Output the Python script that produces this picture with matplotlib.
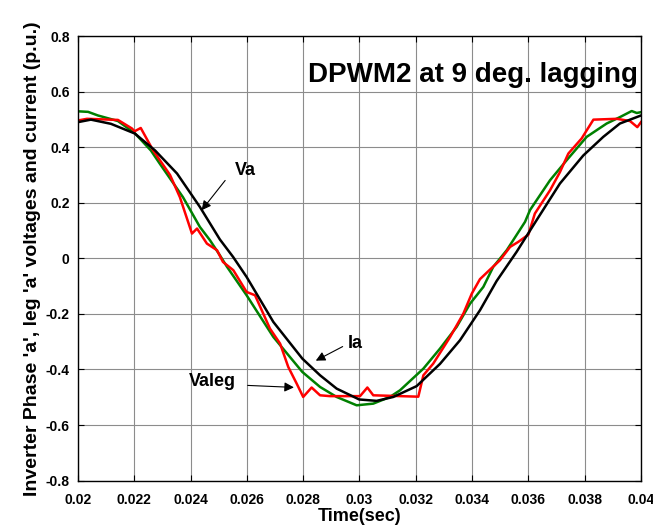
import matplotlib
matplotlib.use('Agg')
import matplotlib.pyplot as plt

plt.rcParams['font.family'] = ['Liberation Sans', 'DejaVu Sans']
plt.rcParams['font.weight'] = 'bold'
plt.rcParams['axes.unicode_minus'] = False

# Va (black)
t_va = [0.02, 0.02046, 0.02117, 0.02202, 0.02274, 0.02352, 0.02433, 0.02504,
        0.02551, 0.02599, 0.02694, 0.02797, 0.02860, 0.02919, 0.02999, 0.03061,
        0.03120, 0.03203, 0.03286, 0.03357, 0.03428, 0.03487, 0.03558, 0.03629,
        0.03712, 0.03795, 0.03866, 0.03925, 0.04]
va = [0.490, 0.499, 0.484, 0.449, 0.388, 0.305, 0.185, 0.068,
      0.005, -0.067, -0.229, -0.361, -0.421, -0.469, -0.508, -0.513,
      -0.499, -0.460, -0.380, -0.295, -0.187, -0.082, 0.023, 0.137,
      0.269, 0.370, 0.437, 0.485, 0.514]

# Ia (green)
t_ia = [0.02, 0.02036, 0.02071, 0.02142, 0.02202, 0.02259, 0.02291, 0.02373,
        0.02433, 0.02469, 0.02504, 0.02529, 0.02599, 0.02694, 0.02797, 0.02860,
        0.02919, 0.02990, 0.03049, 0.03108, 0.03144, 0.03227, 0.03286, 0.03345,
        0.03393, 0.03440, 0.03475, 0.03523, 0.03588, 0.03606, 0.03677, 0.03736,
        0.03807, 0.03878, 0.03925, 0.03967, 0.03985, 0.04]
ia = [0.529, 0.527, 0.514, 0.494, 0.450, 0.388, 0.340, 0.220,
      0.113, 0.065, 0.011, -0.030, -0.133, -0.283, -0.409, -0.463,
      -0.499, -0.529, -0.523, -0.499, -0.475, -0.397, -0.325, -0.247,
      -0.163, -0.103, -0.031, 0.029, 0.131, 0.174, 0.281, 0.353,
      0.437, 0.485, 0.508, 0.530, 0.523, 0.526]

# Valeg (red)
t_vl = [0.02, 0.02032, 0.02142, 0.02192, 0.02201, 0.02223, 0.02266, 0.02327,
        0.02362, 0.02405, 0.02423, 0.02458, 0.02494, 0.02515, 0.02552, 0.02599,
        0.02629, 0.02682, 0.02718, 0.02747, 0.02777, 0.02800, 0.02830, 0.02860,
        0.02895, 0.03002, 0.03028, 0.03049, 0.03209, 0.03227, 0.03262, 0.03322,
        0.03369, 0.03399, 0.03428, 0.03458, 0.03499, 0.03535, 0.03564, 0.03600,
        0.03623, 0.03677, 0.03712, 0.03742, 0.03789, 0.03831, 0.03914, 0.03961,
        0.03987, 0.04]
vl = [0.496, 0.502, 0.498, 0.467, 0.457, 0.469, 0.390, 0.300,
      0.220, 0.089, 0.107, 0.053, 0.029, -0.013, -0.043, -0.121,
      -0.133, -0.253, -0.307, -0.391, -0.451, -0.499, -0.465, -0.493,
      -0.496, -0.496, -0.465, -0.493, -0.498, -0.421, -0.379, -0.283,
      -0.199, -0.127, -0.075, -0.046, -0.007, 0.041, 0.059, 0.085,
      0.161, 0.245, 0.310, 0.377, 0.431, 0.499, 0.502, 0.494,
      0.472, 0.490]

xticks = [0.02, 0.022, 0.024, 0.026, 0.028, 0.03, 0.032, 0.034, 0.036, 0.038, 0.04]
xlabels = ['0.02', '0.022', '0.024', '0.026', '0.028', '0.03', '0.032', '0.034',
           '0.036', '0.038', '0.04']
yticks = [-0.8, -0.6, -0.4, -0.2, 0, 0.2, 0.4, 0.6, 0.8]
ylabels = ['-0.8', '-0.6', '-0.4', '-0.2', '0', '0.2', '0.4', '0.6', '0.8']

fig = plt.figure(figsize=(6.53, 5.31), dpi=100)
ax = fig.add_axes([0.1194, 0.0949, 0.8622, 0.8373])

ax.plot(t_ia, ia, color='#008000', lw=1.8)
ax.plot(t_vl, vl, color='#ff0000', lw=1.8)
ax.plot(t_va, va, color='black', lw=1.8)

ax.set_xlim(0.02, 0.04)
ax.set_ylim(-0.8, 0.8)
ax.set_xticks(xticks)
ax.set_xticklabels(xlabels)
ax.set_yticks(yticks)
ax.set_yticklabels(ylabels)
ax.tick_params(direction='in', top=True, right=True, length=4, width=0.8,
               labelsize=10, pad=6)
ax.tick_params(axis='x', pad=9)
ax.grid(True, color='#8c8c8c', lw=0.8)
ax.set_axisbelow(True)
for s in ax.spines.values():
    s.set_linewidth(1.0)

ax.set_xlabel('Time(sec)', fontsize=13, fontweight='bold', labelpad=1)
ax.set_ylabel("Inverter Phase 'a', leg 'a' voltages and current (p.u.)",
              fontsize=14, fontweight='bold', labelpad=3)

ax.text(0.9947, 0.912, 'DPWM2 at 9 deg. lagging', transform=ax.transAxes,
        ha='right', va='center', fontsize=20, fontweight='bold')

arrow = dict(arrowstyle='-|>', color='black', lw=0.8, mutation_scale=14)
ax.annotate('', xy=(0.02433, 0.165), xytext=(0.02529, 0.288), arrowprops=arrow)
ax.text(0.02593, 0.317, 'Va', ha='center', va='center', fontsize=13, fontweight='bold')
ax.annotate('', xy=(0.02836, -0.373), xytext=(0.02949, -0.313), arrowprops=arrow)
ax.text(0.02984, -0.306, 'Ia', ha='center', va='center', fontsize=13, fontweight='bold')
ax.annotate('', xy=(0.02777, -0.465), xytext=(0.02593, -0.457), arrowprops=arrow)
ax.text(0.02476, -0.442, 'Valeg', ha='center', va='center', fontsize=13, fontweight='bold')

fig.savefig('out.png', dpi=100)
